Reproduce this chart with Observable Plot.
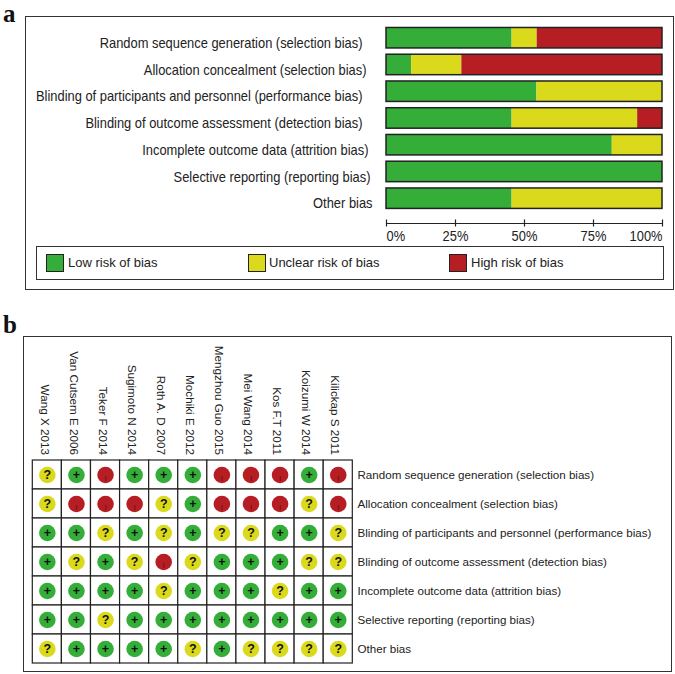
<!DOCTYPE html>
<html><head><meta charset="utf-8">
<script src="https://cdn.jsdelivr.net/npm/d3@7"></script>
<script src="https://cdn.jsdelivr.net/npm/@observablehq/plot@0.6"></script>
<style>
html,body{margin:0;padding:0;background:#fff}
#root{position:relative;width:675px;height:674px;overflow:hidden;font-family:"Liberation Sans",Arial,sans-serif}
#root svg{position:absolute;left:0;background:transparent;overflow:visible}
.frame{position:absolute;box-sizing:border-box;border:1.3px solid #333}
.letter{position:absolute;left:3px;font:bold 25px "Liberation Serif",serif;color:#111;line-height:1}
.sw{position:absolute;box-sizing:border-box;width:18px;height:18px;border:1.2px solid #222;top:254px}
.lg{position:absolute;top:255px;font-size:13px;color:#222;line-height:16px;white-space:nowrap}
</style></head><body><div id="root"></div>
<script>
const domains = [
  "Random sequence generation (selection bias)",
  "Allocation concealment (selection bias)",
  "Blinding of participants and personnel (performance bias)",
  "Blinding of outcome assessment (detection bias)",
  "Incomplete outcome data (attrition bias)",
  "Selective reporting (reporting bias)",
  "Other bias"
];
const lowPct     = [45.5,  9.1, 54.5, 45.5, 81.8, 100, 45.5];
const unclearPct = [ 9.1, 18.2, 45.5, 45.5, 18.2,   0, 54.5];
const highPct    = [45.4, 72.7,  0,    9.0,  0,     0,  0];
const riskNames = ["Low risk of bias","Unclear risk of bias","High risk of bias"];
const riskColors = ["#34ae38","#dbd91c","#b71e24"];
const axisTicks = [0,25,50,75,100];
const studies = ["Wang X 2013","Van Cutsem E 2006","Teker F 2014","Sugimoto N 2014","Roth A. D 2007","Mochiki E 2012","Mengzhou Guo 2015","Mei Wang 2014","Kos F.T 2011","Koizumi W 2014","Kilickap S 2011"];
const judgments = [
  "?+-+++---+-",
  "?---?+---?-",
  "++?+?+??++?",
  "+?+?-?+++??",
  "++++?+++?++",
  "++?++++++++",
  "?++++?+????"
];

const root = document.getElementById("root");
const div = (cls, css, txt) => { const d = document.createElement("div"); d.className = cls; d.style.cssText = css; if (txt) d.textContent = txt; root.append(d); return d; };
const ink = "#222";
/* panel a's lettering is slightly condensed in the reference */
const condense = (svg, k) => d3.select(svg).selectAll("text").each(function(){
  const len = this.getComputedTextLength();
  this.setAttribute("lengthAdjust","spacingAndGlyphs");
  this.setAttribute("textLength",(len*k).toFixed(1));
});

div("letter","top:1px","a");
div("letter","top:312px","b");
div("frame","left:25px;top:16px;width:649px;height:274px");
div("frame","left:23px;top:336px;width:649px;height:336px");
div("frame","left:36px;top:246px;width:628px;height:34px");

/* ---- panel a ---- */
const segs = domains.flatMap((d,i)=>{
  let acc=0;
  return [lowPct[i],unclearPct[i],highPct[i]].map((v,k)=>{const s={domain:d,risk:riskNames[k],x1:acc,x2:acc+v};acc+=v;return s;});
}).filter(s=>s.x2>s.x1);
const labelNudge = [-24,-20,-24,-24,-18,-16,-14];
const plotA = Plot.plot({
  width:675,height:240,margin:0,
  style:{fontFamily:"Liberation Sans",background:"transparent"},
  x:{domain:[0,100],range:[386,662],axis:null},
  y:{domain:domains,range:[21.2,214.7],padding:0.235,round:false,axis:null},
  color:{domain:riskNames,range:riskColors},
  marks:[
    Plot.barX(segs,{x1:"x1",x2:"x2",y:"domain",fill:"risk"}),
    Plot.barX(domains,{x1:0,x2:100,y:d=>d,fill:"none",stroke:ink,strokeWidth:1.5}),
    ...domains.map((d,i)=>Plot.text([d],{y:d=>d,x:0,text:d=>d,textAnchor:"end",dx:labelNudge[i],dy:5.2,fontSize:14.2,fill:ink}))
  ]
});
plotA.style.top="0px";root.append(plotA);
condense(plotA,0.908);

const plotAxis = Plot.plot({
  width:675,height:30,margin:0,
  style:{fontFamily:"Liberation Sans",background:"transparent"},
  x:{domain:[0,100],range:[386,662],axis:null},
  y:{domain:[-1,1],range:[11.5,4.5],axis:null},
  marks:[
    Plot.ruleY([0],{x1:0,x2:100,stroke:ink,strokeWidth:1.2}),
    Plot.ruleX(axisTicks,{y1:-1,y2:1,stroke:ink,strokeWidth:1.2}),
  ]
});
plotAxis.style.top="215px";root.append(plotAxis);
const plotTicks = Plot.plot({
  width:675,height:30,margin:0,
  style:{fontFamily:"Liberation Sans",background:"transparent"},
  x:{domain:[0,100],range:[386,662],axis:null},
  y:{domain:[0,1],range:[15,15],axis:null},
  marks:[
    Plot.text(axisTicks.filter(t=>t===0),{x:d=>d,y:()=>0,text:d=>d+"%",textAnchor:"start",fontSize:14,fill:ink}),
    Plot.text(axisTicks.filter(t=>t>0&&t<100),{x:d=>d,y:()=>0,text:d=>d+"%",fontSize:14,fill:ink}),
    Plot.text(axisTicks.filter(t=>t===100),{x:d=>d,y:()=>0,text:d=>d+"%",textAnchor:"end",fontSize:14,fill:ink})
  ]
});
plotTicks.style.top="221px";root.append(plotTicks);
condense(plotTicks,0.92);

/* legend */
[[46,68],[248,269],[449,471]].forEach(([sx,tx],k)=>{
  div("sw",`left:${sx}px;background:${riskColors[k]}`);
  div("lg",`left:${tx}px`,riskNames[k]);
});

/* ---- panel b ---- */
const cells = domains.flatMap((d,i)=>studies.map((s,j)=>({domain:d,study:s,j:judgments[i][j]})));
const plotB = Plot.plot({
  width:675,height:674,margin:0,
  style:{fontFamily:"Liberation Sans",background:"transparent"},
  x:{domain:studies,range:[32.3,352.3],padding:0,round:false,axis:null},
  y:{domain:domains,range:[460,663],padding:0,round:false,axis:null},
  color:{domain:["+","?","-"],range:riskColors},
  marks:[
    Plot.cell(cells,{x:"study",y:"domain",fill:"white",stroke:ink,strokeWidth:1.2}),
    Plot.dot(cells,{x:"study",y:"domain",r:8.3,fill:"j"}),
    Plot.text(cells.filter(c=>c.j!=="-"),{x:"study",y:"domain",text:"j",fontSize:12.5,fontWeight:"bold",fill:"#111"}),
    Plot.text(cells.filter(c=>c.j==="-"),{x:"study",y:"domain",text:()=>"|",dy:3,fontSize:6,fontWeight:"bold",fill:"#5a1214"}),
    Plot.text(studies,{x:d=>d,frameAnchor:"top",dx:1.5,dy:454.5,text:d=>d,rotate:90,textAnchor:"end",fontSize:11.7,fill:ink}),
    Plot.text(domains,{y:d=>d,frameAnchor:"left",dx:357,text:d=>d,textAnchor:"start",fontSize:11.6,fill:ink})
  ]
});
plotB.style.top="0px";root.append(plotB);
</script></body></html>
